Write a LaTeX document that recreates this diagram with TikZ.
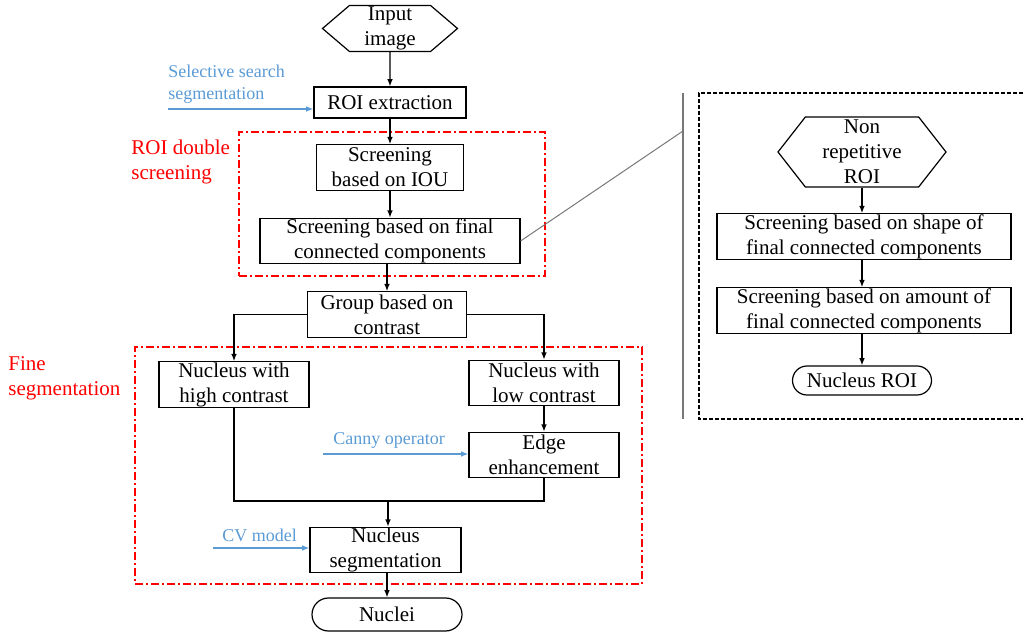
\documentclass[tikz,border=0pt]{standalone}
\usepackage{fontspec}
\setmainfont{Liberation Serif}
\usetikzlibrary{positioning,shapes.symbols,shapes.misc,arrows.meta}
\definecolor{lblue}{RGB}{91,155,213}
\definecolor{zgray}{RGB}{120,120,120}

\tikzset{
  txt/.style={font=\fontsize{10.5}{12.5}\selectfont, align=center, inner sep=0pt},
  box/.style={txt, draw, line width=0.6pt, minimum height=22.75pt, minimum width=#1},
  hexa/.style={txt, draw, line width=0.6pt, signal, signal to=west and east},
  term/.style={txt, draw, line width=0.6pt, rounded rectangle, minimum width=75pt, minimum height=16.5pt},
  arr/.style={-{Latex[length=3.6pt,width=2.8pt]}, line width=0.6pt},
  barr/.style={arr, draw=lblue},
  blab/.style={text=lblue, font=\fontsize{9}{11}\selectfont, align=left, anchor=west, inner sep=0pt},
  rlab/.style={text=red, font=\fontsize{10.5}{12.5}\selectfont, align=left, anchor=west, inner sep=0pt},
  rframe/.style={draw=red, line width=0.8pt, dash pattern=on 4pt off 1.5pt on 1pt off 1.5pt, inner sep=0pt},
  zframe/.style={line width=0.6pt, dash pattern=on 2pt off 1pt},
}

\begin{document}
\begin{tikzpicture}[x=0.5pt,y=-0.5pt,node distance=36pt,on grid]
  \useasboundingbox (0,0) rectangle (1023,635);

  % frames
  \node[rframe, minimum width=153pt, minimum height=72pt] (dbl) at (392,204) {};
  \node[rframe, minimum width=253.5pt, minimum height=118.5pt] (fine) at (388.5,465.5) {};
  \draw[zframe] (1023,93) -| (699,419) -- (1023,419);

  % main column
  \node[hexa, minimum width=67.5pt, minimum height=23pt, signal pointer angle=81] (in) at (390,28.5) {Input\\image};
  \node[box=76pt, minimum height=15.5pt] (roi) [below=37pt of in] {ROI extraction};
  \node[box=73.5pt] (iou) [below=32.5pt of roi] {Screening\\based on IOU};
  \node[box=130pt] (ccomp) [below=36.75pt of iou] {Screening based on final\\connected components};
  \node[box=79.5pt] (grp) [below left=36.75pt and 1.5pt of ccomp] {Group based on\\contrast};
  \node[box=75pt] (high) at (234,384.5) {Nucleus with\\high contrast};
  \node[box=75pt] (low) at (544,383) {Nucleus with\\low contrast};
  \node[box=75pt] (edge) [below=36pt of low] {Edge\\enhancement};
  \node[box=75.5pt] (seg) at (385.5,550) {Nucleus\\segmentation};
  \node[term] (nuclei) [below right=32.25pt and 0.75pt of seg] {Nuclei};

  % zoomed screening
  \node[hexa, minimum width=84pt, minimum height=35pt, signal pointer angle=104] (nr) at (862,152) {Non\\repetitive\\ROI};
  \node[box=147pt] (shp) at (864,236.5) {Screening based on shape of\\final connected components};
  \node[box=147pt] (amt) [below=37pt of shp] {Screening based on amount of\\final connected components};
  \node[term, minimum width=69.5pt, minimum height=14.5pt] (nroi) at (862,380.5) {Nucleus ROI};

  % labels
  \node[blab] (sslab) at (168,84) {Selective search\\segmentation};
  \node[blab] (cylab) at (333,440) {Canny operator};
  \node[blab] (cvlab) at (222,535) {CV model};
  \node[rlab] (dbllab) at (131,162) {ROI double\\screening};
  \node[rlab] (finelab) at (8,378) {Fine\\segmentation};

  \coordinate (ss) at (168,109);
  \coordinate (cy) at (323,454);
  \coordinate (cv) at (213,548);
  \coordinate (jn) at (388,501);
  \coordinate (zt) at (683,93);
  \coordinate (zb) at (683,419);
  \coordinate (zj) at (683,131);

  \draw[arr] (in) -- (roi);
  \draw[arr] (roi) -- (iou);
  \draw[arr] (iou) -- (ccomp);
  \draw[arr] (ccomp.south -| grp.north) -- (grp.north);
  \draw[arr] (grp.west) -| (high.north);
  \draw[arr] (grp.east) -| (low.north);
  \draw[arr] (low) -- (edge);
  \draw[line width=0.6pt] (high.south) |- (jn) -| (edge.south);
  \draw[arr] (jn) -- (jn |- seg.north);
  \draw[arr] (seg.south -| nuclei.north) -- (nuclei.north);

  \draw[barr] (ss) -- (ss -| roi.west);
  \draw[barr] (cy) -- (cy -| edge.west);
  \draw[barr] (cv) -- (cv -| seg.west);

  \draw[arr] (nr.south) -- (nr.south |- shp.north);
  \draw[arr] (nr.south |- shp.south) -- (nr.south |- amt.north);
  \draw[arr] (nr.south |- amt.south) -- (nroi.north);

  \draw[zgray, line width=0.5pt] (ccomp.east) -- (zj);
  \draw[zgray, line width=0.6pt] (zt) -- (zb);
\end{tikzpicture}
\end{document}
